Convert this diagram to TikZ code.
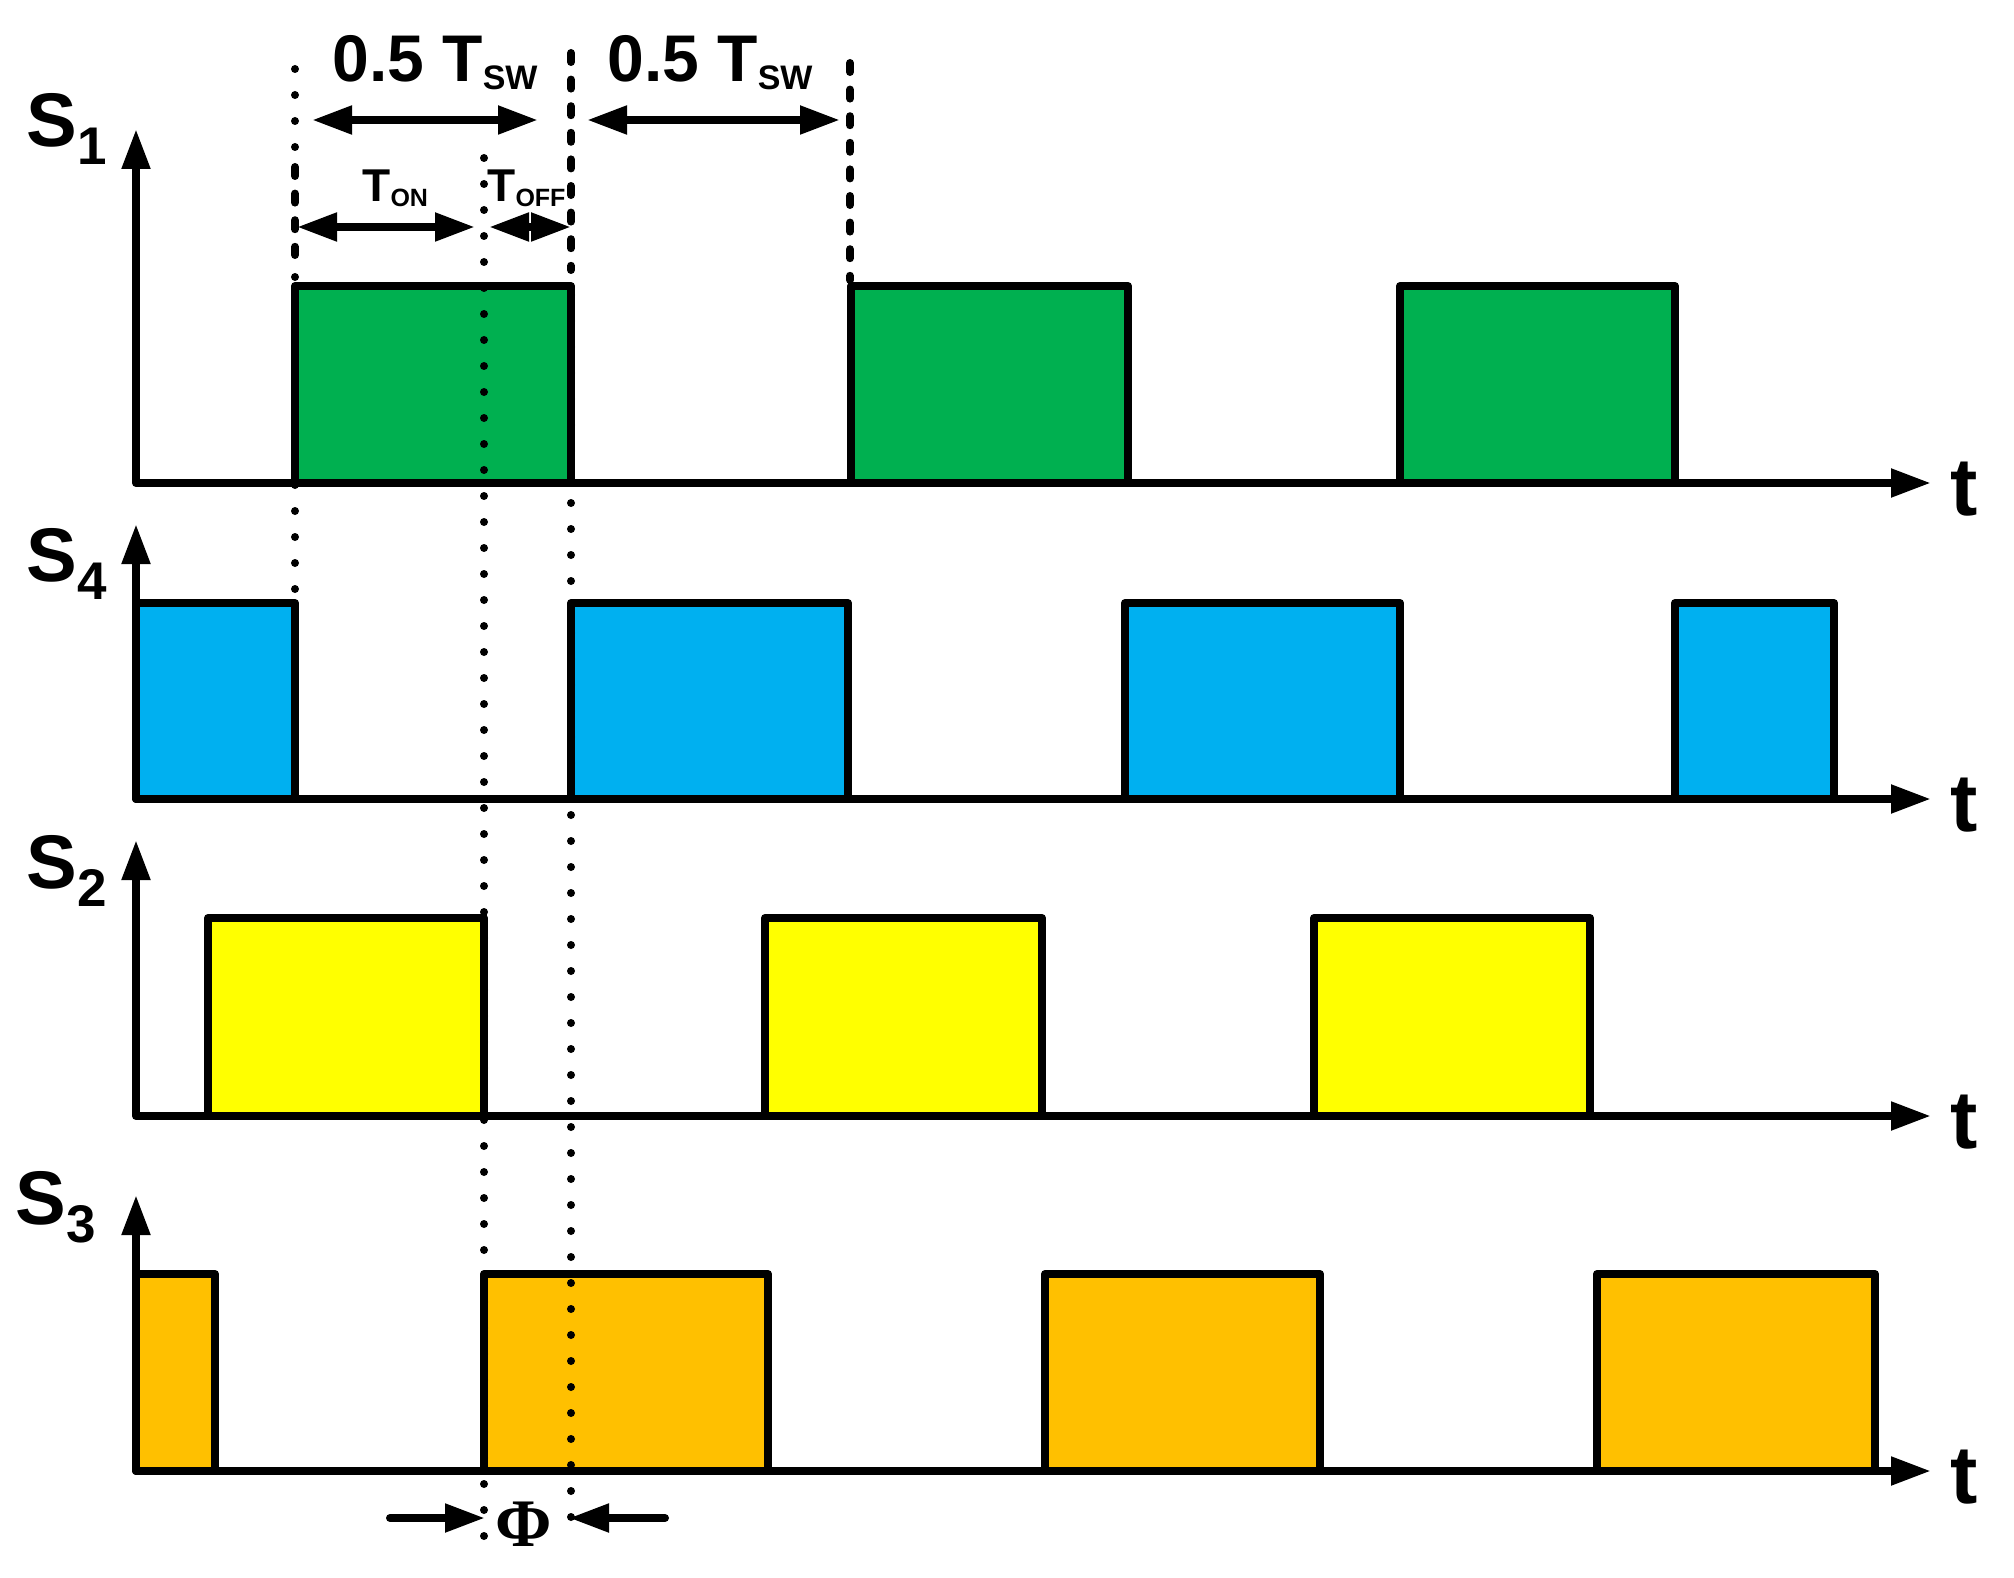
\documentclass[tikz,border=0pt]{standalone}
\usepackage{fontspec}
\setmainfont{Liberation Sans}
\newfontfamily\phifont{Liberation Serif}
\usetikzlibrary{arrows.meta}
\definecolor{sgreen}{RGB}{0,176,80}
\definecolor{sblue}{RGB}{0,176,240}
\definecolor{syellow}{RGB}{255,255,0}
\definecolor{sorange}{RGB}{255,192,0}
\newcommand\mysubA[1]{\raisebox{-9pt}{\fontsize{26.5}{26.5}\selectfont #1}}
\newcommand\mysubB[1]{\raisebox{-4pt}{\fontsize{17}{17}\selectfont #1}}
\newcommand\mysubC[1]{\raisebox{-2.5pt}{\fontsize{12.5}{12.5}\selectfont #1}}
\begin{document}
\begin{tikzpicture}[x=0.5pt,y=-0.5pt,
  ln/.style={line width=4pt, line join=round},
  tip/.style={line width=4pt, line cap=round},
  dotv/.style={line width=4pt, line cap=round, dash pattern=on 0pt off 13pt},
  dashv/.style={line width=4pt, line cap=round, dash pattern=on 4.5pt off 8.8pt},
  lbl/.style={inner sep=0pt, anchor=base west, font=\bfseries\fontsize{38}{38}\selectfont},
  tlbl/.style={inner sep=0pt, anchor=base west, font=\bfseries\fontsize{41}{41}\selectfont},
  dim/.style={inner sep=0pt, anchor=base west, font=\bfseries\fontsize{33}{33}\selectfont},
  sdim/.style={inner sep=0pt, anchor=base west, font=\bfseries\fontsize{23}{23}\selectfont},
  >={Triangle[length=20pt,width=13.5pt]}]
\useasboundingbox[fill=white] (0,0) rectangle (2014,1578);

% ---------- pulses ----------
% S1 (green)
\foreach \a/\b in {295/571, 851/1128, 1400/1675}
  \draw[ln, fill=sgreen] (\a,483) rectangle (\b,286);
% S4 (blue)
\foreach \a/\b in {136/295, 571/848, 1125/1400, 1675/1834}
  \draw[ln, fill=sblue] (\a,799) rectangle (\b,603);
% S2 (yellow)
\foreach \a/\b in {208/484, 765/1042, 1314/1590}
  \draw[ln, fill=syellow] (\a,1116) rectangle (\b,918);
% S3 (orange)
\foreach \a/\b in {136/215, 484/768, 1045/1320, 1597/1875}
  \draw[ln, fill=sorange] (\a,1471) rectangle (\b,1274);

% ---------- axes ----------
\draw[ln, <->] (136,129) -- (136,483) -- (1931,483);
\draw[ln, <->] (136,524) -- (136,799) -- (1931,799);
\draw[ln, <->] (136,840) -- (136,1116) -- (1931,1116);
\draw[ln, <->] (136,1195) -- (136,1471) -- (1931,1471);

% ---------- axis labels ----------
\node[lbl] (lS1) at (26,147) {S\mysubA{1}};
\node[lbl] (lS4) at (26,581) {S\mysubA{4}};
\node[lbl] (lS2) at (26,888) {S\mysubA{2}};
\node[lbl] (lS3) at (15,1224) {S\mysubA{3}};
\foreach \y/\n in {483/t1, 799/t4, 1116/t2, 1471/t3}
  \node[tlbl] (\n) at (1950,\y+32) {t};

% ---------- guide lines ----------
\draw[dotv] (295,69) -- (295,600);
\draw[dashv] (295,167) -- (295,255);
\draw[dotv] (484,158) -- (484,1542);
\draw[dashv] (571,53) -- (571,270);
\draw[dotv] (571,295) -- (571,1542);
\draw[dashv] (850,63) -- (850,280);

% ---------- dimension arrows ----------
\coordinate (h1a) at (312,120); \coordinate (h1b) at (538,120);
\coordinate (h2a) at (587,120); \coordinate (h2b) at (840,120);
\draw[tip, <->] (h1a) -- (h1b);
\draw[tip, <->] (h2a) -- (h2b);
\node[dim] (half1) at (332,82) {0.5 T\mysubB{SW}};
\node[dim] (half2) at (607,82) {0.5 T\mysubB{SW}};

\coordinate (on1) at (297,227); \coordinate (on2) at (475,227);
\coordinate (off1) at (489,227); \coordinate (offm) at (530,227); \coordinate (off2) at (571,227);
\draw[tip, <->] (on1) -- (on2);
\draw[tip, ->] (offm) -- (off1);
\draw[tip, ->] (offm) -- (off2);
\node[sdim] (ton) at (362,202) {T\mysubC{ON}};
\node[sdim] (toff) at (487,202) {T\mysubC{OFF}};

% ---------- phase ----------
\coordinate (p1) at (390,1518); \coordinate (p1t) at (485,1518);
\coordinate (p2) at (665,1518); \coordinate (p2t) at (569,1518);
\draw[tip, ->] (p1) -- (p1t);
\draw[tip, ->] (p2) -- (p2t);
\node[inner sep=0pt, anchor=base, font=\phifont\bfseries\fontsize{34}{34}\selectfont] (phi) at (524,1546) {Φ};
\end{tikzpicture}
\end{document}
